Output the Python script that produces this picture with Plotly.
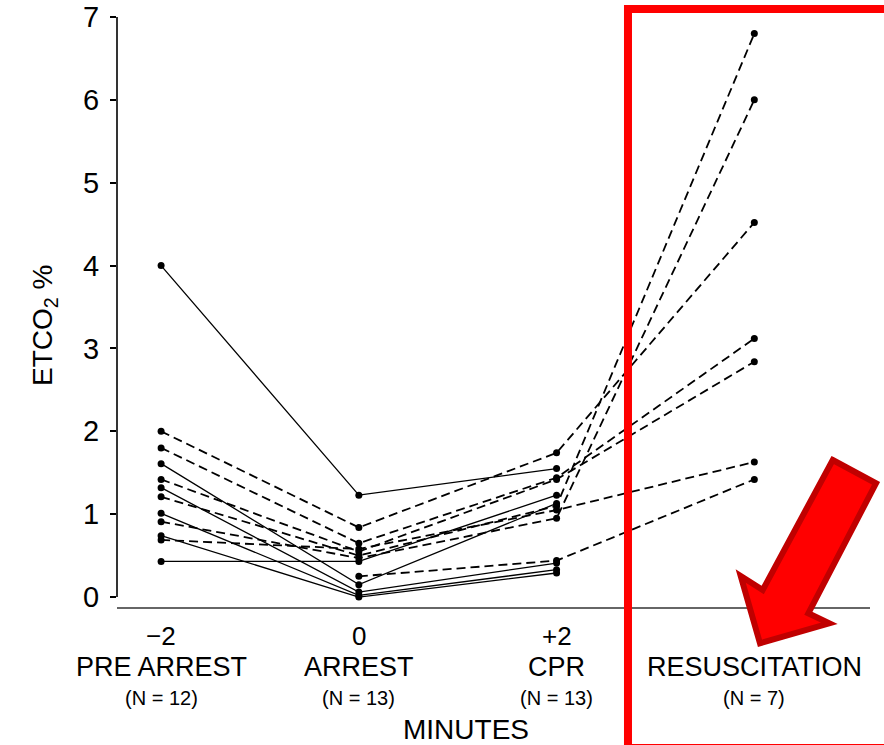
import plotly.graph_objects as go

# ---- data ----
x_pos = [-2, 0, 2, 4]
minutes_labels = ["\u22122", "0", "+2", ""]
phase_labels = ["PRE ARREST", "ARREST", "CPR", "RESUSCITATION"]
n_labels = ["(N = 12)", "(N = 13)", "(N = 13)", "(N = 7)"]
y_ticks = [0, 1, 2, 3, 4, 5, 6, 7]

# solid lines: not resuscitated (values at -2, 0, +2)
solid_subjects = [
    [4.00, 1.23, 1.55, None],
    [1.61, 0.15, 1.13, None],
    [1.32, 0.06, 0.41, None],
    [1.01, 0.02, 0.33, None],
    [0.74, 0.00, 0.29, None],
    [0.43, 0.43, 1.23, None],
]
# dashed lines: resuscitated
dashed_subjects = [
    [2.00, 0.84, 1.74, 4.52],
    [1.80, 0.65, 1.44, 3.12],
    [1.42, 0.55, 1.42, 2.84],
    [1.21, 0.50, 1.10, 6.80],
    [0.91, 0.47, 0.95, 6.00],
    [0.69, 0.58, 1.05, 1.63],
    [None, 0.25, 0.44, 1.42],
]

W, H = 884, 745
L, R, T, B = 117, 870, 15, 607  # plot area in pixels


def px(xp):
    return (xp - L) / (R - L)


def py(yp):
    return (B - yp) / (B - T)


fig = go.Figure()

for vals in solid_subjects + dashed_subjects:
    dashed = vals in dashed_subjects
    xs = [x for x, v in zip(x_pos, vals) if v is not None]
    ys = [v for v in vals if v is not None]
    fig.add_trace(go.Scatter(
        x=xs, y=ys, mode="lines+markers",
        line=dict(color="black", width=1.8 if dashed else 1.3,
                  dash="9px,5px" if dashed else "solid"),
        marker=dict(color="black", size=7),
        showlegend=False, hoverinfo="skip"))

font_main = "Liberation Sans, Arial, Helvetica, sans-serif"

annotations = []
for xp, m, p, n in zip(x_pos, minutes_labels, phase_labels, n_labels):
    if m:
        annotations.append(dict(x=xp, y=py(636), xref="x", yref="paper", text=m,
                                showarrow=False, font=dict(size=26, color="black", family=font_main),
                                xanchor="center", yanchor="middle"))
    annotations.append(dict(x=xp, y=py(667), xref="x", yref="paper", text=p,
                            showarrow=False, font=dict(size=27, color="black", family=font_main),
                            xanchor="center", yanchor="middle"))
    annotations.append(dict(x=xp, y=py(698), xref="x", yref="paper", text=n,
                            showarrow=False, font=dict(size=20, color="black", family=font_main),
                            xanchor="center", yanchor="middle"))
annotations.append(dict(x=px(466), y=py(729), xref="paper", yref="paper", text="MINUTES",
                        showarrow=False, font=dict(size=28, color="black", family=font_main),
                        xanchor="center", yanchor="middle"))
annotations.append(dict(x=px(44), y=py(326), xref="paper", yref="paper",
                        text="ETCO<sub>2</sub> %", textangle=-90,
                        showarrow=False, font=dict(size=28, color="black", family=font_main),
                        xanchor="center", yanchor="middle"))

arrow_pts = [(832.7, 460), (876, 483.3), (808.3, 613.3), (829.3, 623.3),
             (760, 643.3), (740.7, 576), (762.7, 590)]
arrow_path = "M " + " L ".join(f"{px(a):.4f} {py(b):.4f}" for a, b in arrow_pts) + " Z"

# open red frame: top, left and bottom sides only (right side lies off the picture)
frame_pts = [(884, 9), (628, 9), (628, 748), (884, 748)]
frame_path = "M " + " L ".join(f"{px(a):.4f} {py(b):.4f}" for a, b in frame_pts)

shapes = [
    dict(type="line", xref="paper", yref="y", x0=0, x1=0, y0=0, y1=7,
         line=dict(color="black", width=1.6)),
    dict(type="path", xref="paper", yref="paper", path=frame_path,
         line=dict(color="#ff0000", width=8)),
    dict(type="path", xref="paper", yref="paper", path=arrow_path,
         fillcolor="#ff0000", line=dict(color="#c00000", width=6)),
]

fig.update_layout(
    width=W, height=H,
    margin=dict(l=L, r=W - R, t=T, b=H - B, autoexpand=False),
    paper_bgcolor="white", plot_bgcolor="white",
    annotations=annotations, shapes=shapes,
    xaxis=dict(range=[-2.446, 5.17], showgrid=False, zeroline=False,
               showticklabels=False, ticks="", showline=True, automargin=False,
               linecolor="#666666", linewidth=2, fixedrange=True),
    yaxis=dict(range=[-0.12, 7.024], showgrid=False, zeroline=False,
               tickvals=y_ticks, ticks="outside", ticklen=6, automargin=False,
               tickcolor="black", tickwidth=1.6, showline=False,
               tickfont=dict(size=29, color="black", family=font_main),
               ticklabelstandoff=5, fixedrange=True),
)

fig.write_html("out.html")
